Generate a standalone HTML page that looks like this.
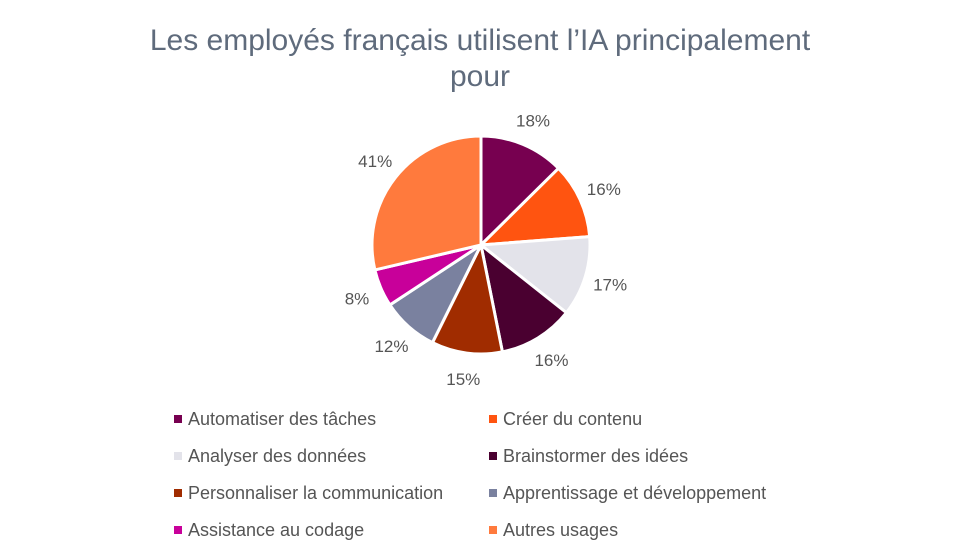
<!DOCTYPE html>
<html><head><meta charset="utf-8"><style>
body{margin:0;background:#fff;font-family:"Liberation Sans",sans-serif}
svg{display:block}
</style></head><body>
<svg width="960" height="560">
<text x="480" y="50" text-anchor="middle" font-size="30" fill="#5f6b7c">Les employés français utilisent l’IA principalement</text>
<text x="480" y="86" text-anchor="middle" font-size="30" fill="#5f6b7c">pour</text>
<g id="pie"></g>
<g id="legend"></g>
</svg>
<script>
const categories=["Automatiser des tâches","Créer du contenu","Analyser des données","Brainstormer des idées","Personnaliser la communication","Apprentissage et développement","Assistance au codage","Autres usages"];
const values=[18,16,17,16,15,12,8,41];
const colors=["#770050","#ff5410","#e3e3ea","#4a0030","#a02c00","#7a819f","#c8009a","#ff7a3d"];
const cx=481,cy=245,r=109,lr=135;
const total=values.reduce((a,b)=>a+b,0);
const NS="http://www.w3.org/2000/svg";
const pie=document.getElementById('pie');
let a0=-Math.PI/2;
function pt(a,rad){return [cx+rad*Math.cos(a),cy+rad*Math.sin(a)];}
values.forEach((v,i)=>{
  const a1=a0+v/total*2*Math.PI;
  const p0=pt(a0,r),p1=pt(a1,r);
  const large=(a1-a0)>Math.PI?1:0;
  const path=document.createElementNS(NS,'path');
  path.setAttribute('d',`M${cx},${cy}L${p0[0]},${p0[1]}A${r},${r} 0 ${large} 1 ${p1[0]},${p1[1]}Z`);
  path.setAttribute('fill',colors[i]);
  path.setAttribute('stroke','#fff');
  path.setAttribute('stroke-width','3');
  
  
  pie.appendChild(path);
  const am=(a0+a1)/2;const lp=pt(am,lr);
  const t=document.createElementNS(NS,'text');
  t.setAttribute('x',lp[0]);t.setAttribute('y',lp[1]+6);
  t.setAttribute('text-anchor','middle');t.setAttribute('font-size','17');t.setAttribute('fill','#555');
  t.textContent=v+'%';
  
  
  pie.appendChild(t);
  a0=a1;
});
const lg=document.getElementById('legend');
categories.forEach((c,i)=>{
  const x=i%2?493:178,y=419+Math.floor(i/2)*37;
  const g=document.createElementNS(NS,'g');
  
  
  const s=document.createElementNS(NS,'rect');
  s.setAttribute('x',x-4);s.setAttribute('y',y-4);s.setAttribute('width',8);s.setAttribute('height',8);s.setAttribute('fill',colors[i]);
  g.appendChild(s);
  const t=document.createElementNS(NS,'text');
  t.setAttribute('x',x+10);t.setAttribute('y',y+6);t.setAttribute('font-size','18');t.setAttribute('fill','#555');
  t.textContent=c;g.appendChild(t);
  lg.appendChild(g);
});
</script>
</body></html>
